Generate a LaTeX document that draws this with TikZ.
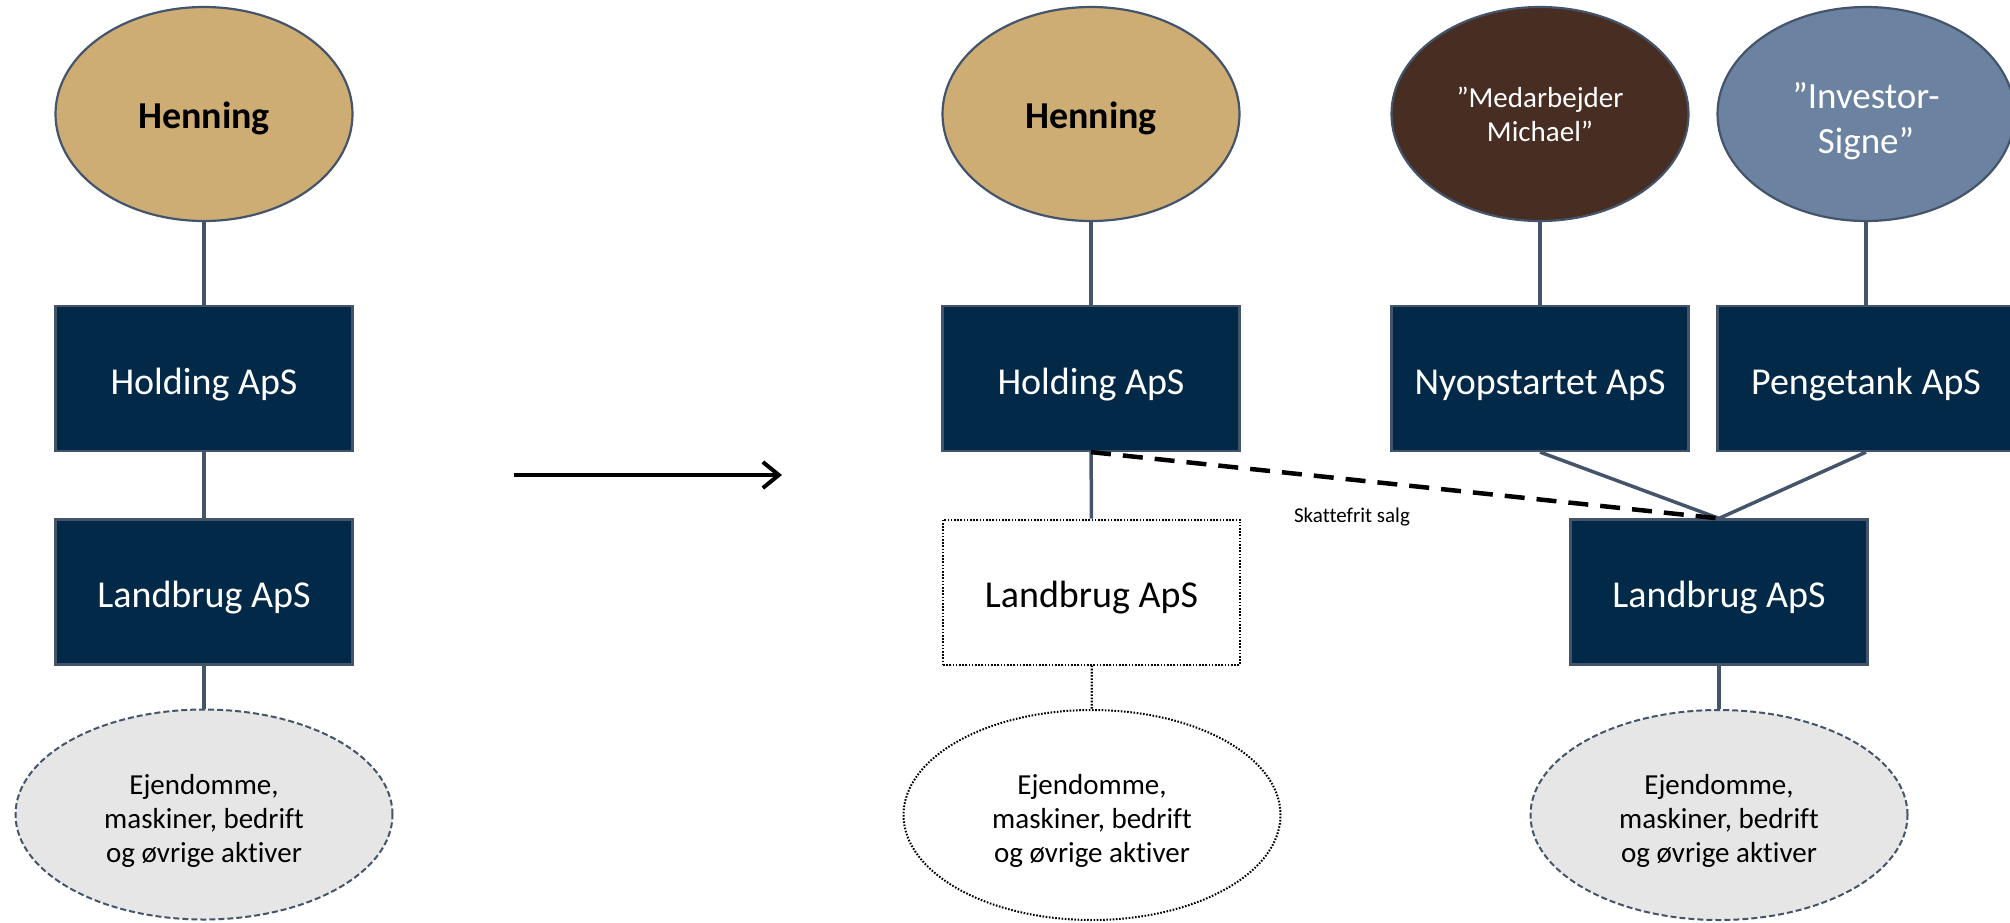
\documentclass[tikz,border=0pt]{standalone}
\usepackage{fontspec}
\setmainfont{Carlito}[Ligatures={NoCommon}]
\usetikzlibrary{shapes.geometric,arrows.meta}
\definecolor{navybox}{HTML}{022A48}
\definecolor{edgeblue}{HTML}{44546A}
\definecolor{tanfill}{HTML}{CDAD74}
\definecolor{brownfill}{HTML}{472D22}
\definecolor{steelfill}{HTML}{6B82A0}
\definecolor{assetfill}{HTML}{E6E6E6}
\newcommand{\topstrut}[1]{\rule{0pt}{#1}}
\begin{document}
\begin{tikzpicture}[x=1pt,y=-1pt,
  company/.style={rectangle, draw=edgeblue, line width=2.2pt, fill=navybox, text=white,
    minimum width=297pt, minimum height=145pt, inner sep=0pt, font=\fontsize{38}{46}\selectfont,
    text height=38pt, text depth=6.5pt},
  emptycompany/.style={company, draw=black, fill=white, text=black, line width=2pt, dash pattern=on 1.6pt off 1.6pt},
  person/.style={ellipse, draw=edgeblue, line width=2.2pt, minimum width=297pt, minimum height=214pt,
    inner sep=0pt, align=center},
  asset/.style={ellipse, draw=edgeblue, line width=2pt, dash pattern=on 6pt off 3pt, fill=assetfill,
    minimum width=377pt, minimum height=210pt, inner sep=0pt, align=center,
    font=\fontsize{29}{34}\selectfont},
  emptyasset/.style={asset, draw=black, fill=white, dash pattern=on 1.6pt off 1.6pt},
  link/.style={draw=edgeblue, line width=3.5pt},
  dotlink/.style={draw=black, line width=2.2pt, dash pattern=on 1.6pt off 1.6pt},
  salelink/.style={draw=black, line width=4.5pt, dash pattern=on 20pt off 12pt},
]
\path[use as bounding box] (0,0) rectangle (2010,922);

% left structure
\node[person, fill=tanfill, font=\bfseries\fontsize{38}{46}\selectfont, text height=36pt, text depth=6.5pt] (hen1) at (204,114) {Henning};
\node[company] (hold1) at (204,378.5) {Holding ApS};
\node[company] (land1) at (204,592) {Landbrug ApS};
\node[asset] (ast1) at (204,814.5) {\topstrut{32pt}Ejendomme,\\maskiner, bedrift\\og øvrige aktiver};

\draw[link] (hen1) -- (hold1);
\draw[link] (hold1) -- (land1);
\draw[link] (land1) -- (ast1);

% transition arrow
\coordinate (arrA) at (514,475);
\coordinate (arrB) at (782,475);
\draw[line width=4pt, -{Straight Barb[length=16pt,width=26pt]}] (arrA) -- (arrB);

% right structure
\node[person, fill=tanfill, font=\bfseries\fontsize{38}{46}\selectfont, text height=36pt, text depth=6.5pt] (hen2) at (1091,114) {Henning};
\node[company] (hold2) at (1091,378.5) {Holding ApS};
\node[emptycompany] (land2) at (1091.5,592) {Landbrug ApS};
\node[emptyasset] (ast2) at (1092,815) {\topstrut{32pt}Ejendomme,\\maskiner, bedrift\\og øvrige aktiver};

\node[person, fill=brownfill, text=white, font=\fontsize{29}{34}\selectfont] (mich) at (1540,114) {”Medarbejder\\Michael”};
\node[person, fill=steelfill, text=white, font=\fontsize{37}{45}\selectfont] (signe) at (1866,114) {\topstrut{40pt}”Investor-\\Signe”};
\node[company] (nyo) at (1540,378.5) {Nyopstartet ApS};
\node[company] (peng) at (1866,378.5) {Pengetank ApS};
\node[company] (land3) at (1719,592) {Landbrug ApS};
\node[asset] (ast3) at (1719,815) {\topstrut{32pt}Ejendomme,\\maskiner, bedrift\\og øvrige aktiver};

\draw[link] (hen2) -- (hold2);
\draw[link] (hold2) -- (land2);
\draw[dotlink] (land2) -- (ast2);
\draw[link] (mich) -- (nyo);
\draw[link] (signe) -- (peng);
\draw[link] (nyo.south) -- (land3.north);
\draw[link] (peng.south) -- (land3.north);
\draw[link] (land3) -- (ast3);
\draw[salelink] (hold2.south) -- (land3.north);
\node[font=\fontsize{21}{25}\selectfont] (salg) at (1352,517) {Skattefrit salg};
\end{tikzpicture}
\end{document}
